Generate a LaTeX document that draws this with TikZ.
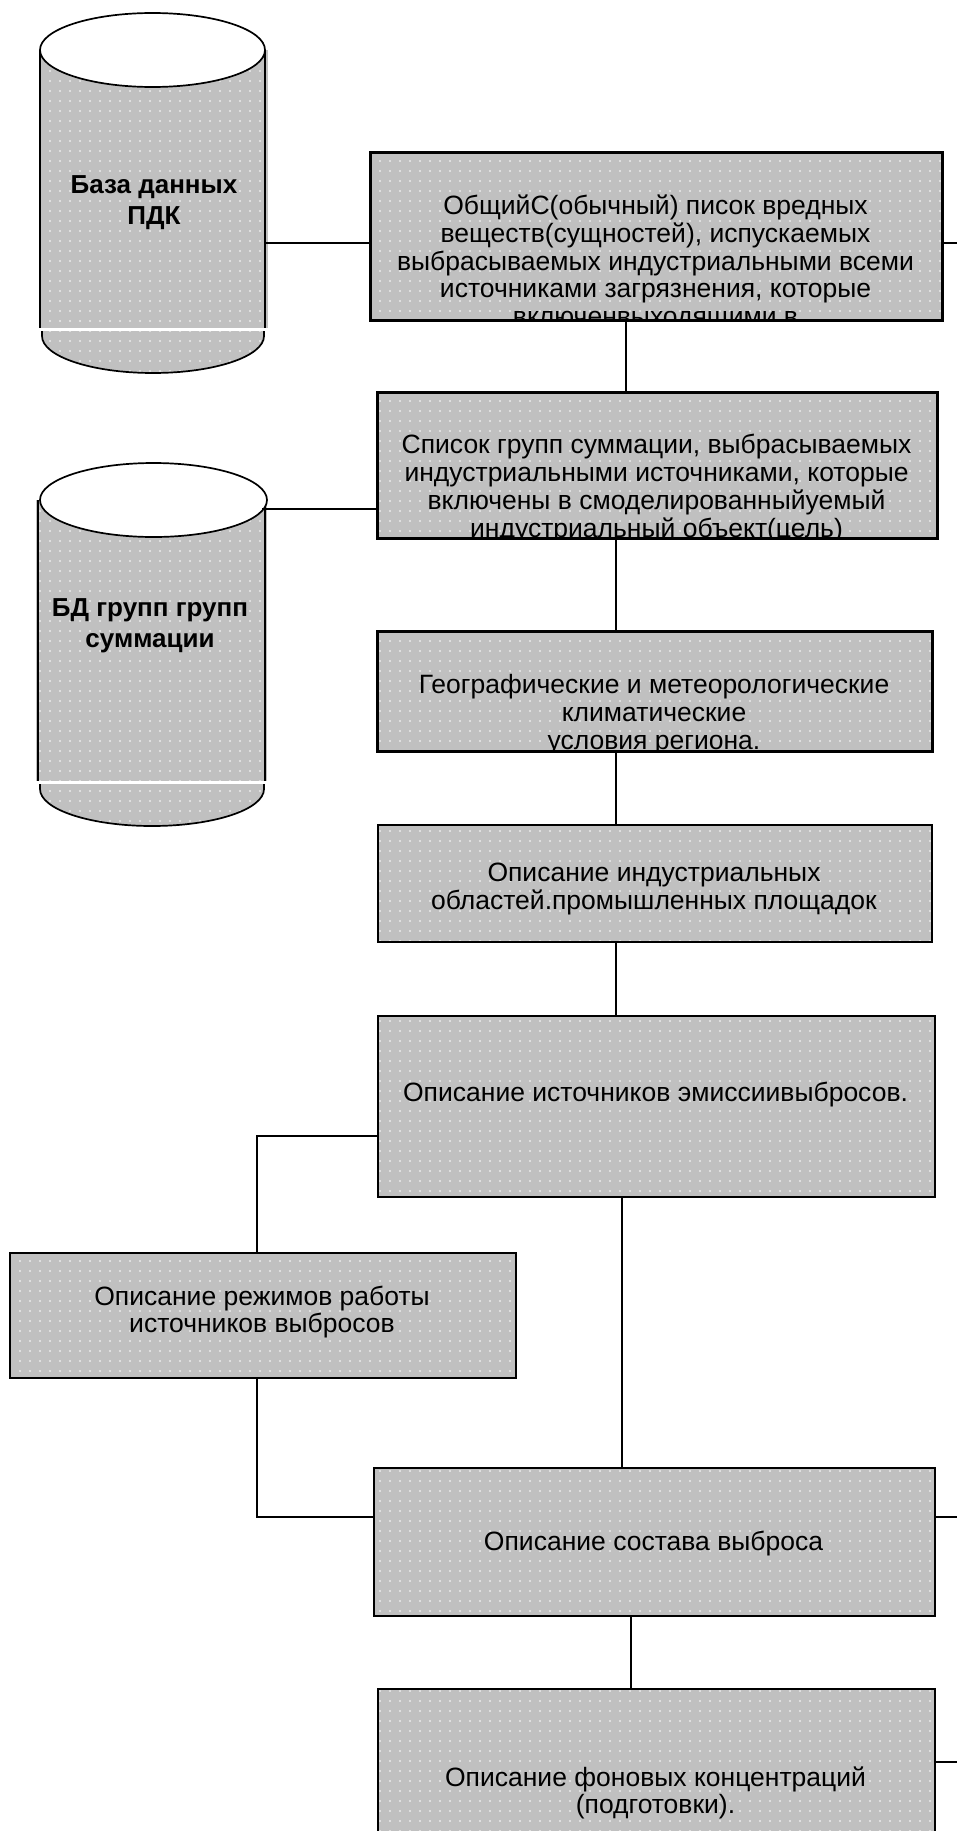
\documentclass[tikz,border=0pt]{standalone}
\usepackage{fontspec}
\setmainfont{Liberation Sans}
\usetikzlibrary{patterns.meta}
\definecolor{boxgray}{HTML}{C0C0C0}
\tikzset{
  shadefill/.style={preaction={fill=boxgray}, pattern={Dots[distance=10pt,radius=0.85pt]}, pattern color=white},
  frame/.style={draw=black, line width=1.7pt},
  boxnode/.style={shadefill, frame, rectangle, inner sep=0pt, anchor=north west},
  boxtext/.style={font=\fontsize{26.5}{27.7}\selectfont, align=center, inner sep=0pt},
  dbtext/.style={font=\bfseries\fontsize{26}{31}\selectfont, align=center, inner sep=0pt},
  link/.style={draw=black, line width=1.5pt},
}
\begin{document}
\begin{tikzpicture}[x=1pt,y=-1pt]
\useasboundingbox (0,0) rectangle (957,1831);
\clip (0,0) rectangle (957,1831);
\fill[white] (0,0) rectangle (957,1831);

% cylinder 1
\path[shadefill] (40,50) rectangle (268,328);
\draw[link] (40,50) -- (40,328);
\draw[link] (265,50) -- (265,328);
\draw[frame, fill=white] (152.5,50) ellipse[x radius=112.5, y radius=37];
\path[shadefill] (42,331) -- (42,336) arc[start angle=180, end angle=0, x radius=111, y radius=37] -- (264,331) -- cycle;
\draw[frame] (42,331) -- (42,336) arc[start angle=180, end angle=0, x radius=111, y radius=37] -- (264,331);
\node[dbtext] (db1) at (154,203) {База данных\\ПДК};

% cylinder 2
\path[shadefill] (36,500) rectangle (267,781);
\draw[link] (38,500) -- (38,781);
\draw[link] (265,500) -- (265,781);
\draw[frame, fill=white] (153.5,500) ellipse[x radius=113.5, y radius=37];
\path[shadefill] (40,784) -- (40,789) arc[start angle=180, end angle=0, x radius=112, y radius=37] -- (264,784) -- cycle;
\draw[frame] (40,784) -- (40,789) arc[start angle=180, end angle=0, x radius=112, y radius=37] -- (264,784);
\node[dbtext] (db2) at (150,626) {БД групп групп\\суммации};

% boxes
\node[boxnode, minimum width=571pt, minimum height=167pt] (b1) at (370,152) {};
\begin{scope}
\clip (b1.south west) rectangle (b1.north east);
\node[boxtext] (t1) at (655.5,263) {ОбщийС(обычный) писок вредных\\веществ(сущностей), испускаемых\\выбрасываемых индустриальными всеми\\источниками загрязнения, которые\\включенвыходящими в};
\end{scope}
\draw[frame] (b1.south west) rectangle (b1.north east);

\node[boxnode, minimum width=559pt, minimum height=145pt] (b2) at (377,392) {};
\begin{scope}
\clip (b2.south west) rectangle (b2.north east);
\node[boxtext] (t2) at (656.5,488.5) {Список групп суммации, выбрасываемых\\индустриальными источниками, которые\\включены в смоделированныйуемый\\индустриальный объект(цель)};
\end{scope}
\draw[frame] (b2.south west) rectangle (b2.north east);

\node[boxnode, minimum width=554pt, minimum height=119pt] (b3) at (377,631) {};
\begin{scope}
\clip (b3.south west) rectangle (b3.north east);
\node[boxtext] (t3) at (654,714.5) {Географические и метеорологические\\климатические\\условия региона.};
\end{scope}
\draw[frame] (b3.south west) rectangle (b3.north east);

\node[boxnode, minimum width=554pt, minimum height=117pt] (b4) at (377,824) {};
\node[boxtext] (t4) at (654,889) {Описание индустриальных\\областей.промышленных площадок};

\node[boxnode, minimum width=557pt, minimum height=181pt] (b5) at (377,1015) {};
\node[boxtext] (t5) at (655.5,1094.5) {Описание источников эмиссиивыбросов.};

\node[boxnode, minimum width=506pt, minimum height=125pt] (b6) at (9,1252) {};
\node[boxtext] (t6) at (262,1312) {Описание режимов работы\\источников выбросов};

\node[boxnode, minimum width=561pt, minimum height=148pt] (b7) at (373,1467) {};
\node[boxtext] (t7) at (653.5,1544) {Описание состава выброса};

\node[boxnode, minimum width=557pt, minimum height=200pt] (b8) at (377,1688) {};
\node[boxtext] (t8) at (655.5,1793) {Описание фоновых концентраций\\(подготовки).};

% connectors
\coordinate (c1) at (265,243);
\coordinate (e1) at (957,243);
\draw[link] (c1) -- (c1 -| b1.west);
\draw[link] (b1.east |- e1) -- (e1);

\coordinate (x12) at (626,0);
\draw[link] (x12 |- b1.south) -- (x12 |- b2.north);

\coordinate (c2) at (262,509);
\draw[link] (c2) -- (c2 -| b2.west);

\coordinate (x23) at (616,0);
\draw[link] (x23 |- b2.south) -- (x23 |- b3.north);
\draw[link] (x23 |- b3.south) -- (x23 |- b4.north);
\draw[link] (x23 |- b4.south) -- (x23 |- b5.north);

\coordinate (y5) at (0,1136);
\coordinate (x6) at (257,0);
\draw[link] (b5.west |- y5) -| (x6 |- b6.north);
\coordinate (y7) at (0,1517);
\draw[link] (x6 |- b6.south) |- (b7.west |- y7);

\coordinate (x57) at (622,0);
\draw[link] (x57 |- b5.south) -- (x57 |- b7.north);

\coordinate (e7) at (957,1517);
\draw[link] (b7.east |- e7) -- (e7);

\coordinate (x78) at (631,0);
\draw[link] (x78 |- b7.south) -- (x78 |- b8.north);

\coordinate (e8) at (957,1762);
\draw[link] (b8.east |- e8) -- (e8);
\end{tikzpicture}
\end{document}
